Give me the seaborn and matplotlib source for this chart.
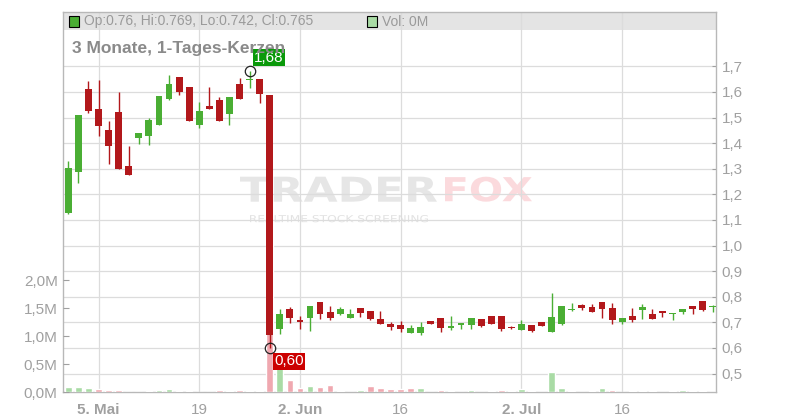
import numpy as np
import pandas as pd
import seaborn as sns
import matplotlib
matplotlib.use("Agg")
import matplotlib.pyplot as plt
from matplotlib.patches import Rectangle, PathPatch
from matplotlib.textpath import TextPath
from matplotlib.font_manager import FontProperties
from matplotlib.transforms import Affine2D

# Tageskerzen (Handelstage), Kurse und Volumen in Mio.
dates = pd.bdate_range("2025-04-30", "2025-07-29")

opens = [1.127, 1.287, 1.610, 1.532, 1.450, 1.520, 1.309, 1.420, 1.428, 1.471,
         1.572, 1.657, 1.618, 1.471, 1.546, 1.570, 1.514, 1.630, 1.645, 1.649,
         1.586, 0.674, 0.752, 0.708, 0.718, 0.779, 0.740, 0.732, 0.718, 0.756,
         0.744, 0.713, 0.695, 0.691, 0.659, 0.659, 0.705, 0.717, 0.679, 0.691,
         0.691, 0.713, 0.725, 0.725, 0.682, 0.671, 0.689, 0.701, 0.663, 0.693,
         0.748, 0.768, 0.760, 0.779, 0.756, 0.701, 0.725, 0.748, 0.732, 0.744,
         0.734, 0.740, 0.764, 0.783, 0.760]
highs = [1.329, 1.509, 1.641, 1.645, 1.485, 1.598, 1.388, 1.438, 1.499, 1.583,
         1.665, 1.657, 1.618, 1.559, 1.619, 1.579, 1.579, 1.654, 1.680, 1.649,
         1.586, 0.752, 0.760, 0.723, 0.764, 0.779, 0.765, 0.760, 0.752, 0.756,
         0.744, 0.744, 0.701, 0.706, 0.689, 0.701, 0.705, 0.717, 0.724, 0.697,
         0.717, 0.713, 0.725, 0.725, 0.686, 0.709, 0.689, 0.701, 0.814, 0.764,
         0.775, 0.771, 0.771, 0.779, 0.775, 0.717, 0.756, 0.771, 0.752, 0.744,
         0.736, 0.752, 0.764, 0.783, 0.769]
lows = [1.125, 1.244, 1.518, 1.427, 1.318, 1.299, 1.276, 1.397, 1.393, 1.471,
        1.568, 1.588, 1.486, 1.459, 1.533, 1.486, 1.471, 1.572, 1.615, 1.557,
        0.600, 0.653, 0.698, 0.675, 0.667, 0.714, 0.710, 0.730, 0.718, 0.722,
        0.710, 0.695, 0.671, 0.662, 0.659, 0.652, 0.695, 0.662, 0.671, 0.675,
        0.675, 0.683, 0.694, 0.667, 0.674, 0.671, 0.663, 0.687, 0.663, 0.691,
        0.744, 0.748, 0.740, 0.717, 0.693, 0.693, 0.702, 0.713, 0.713, 0.721,
        0.710, 0.732, 0.732, 0.744, 0.742]
closes = [1.304, 1.509, 1.525, 1.467, 1.389, 1.299, 1.276, 1.438, 1.489, 1.583,
          1.630, 1.600, 1.486, 1.524, 1.533, 1.486, 1.579, 1.572, 1.650, 1.592,
          0.652, 0.732, 0.718, 0.702, 0.764, 0.734, 0.718, 0.752, 0.732, 0.738,
          0.713, 0.695, 0.683, 0.675, 0.678, 0.682, 0.695, 0.679, 0.687, 0.697,
          0.717, 0.687, 0.694, 0.675, 0.678, 0.693, 0.667, 0.687, 0.721, 0.764,
          0.752, 0.756, 0.740, 0.752, 0.710, 0.717, 0.709, 0.760, 0.713, 0.736,
          0.736, 0.752, 0.752, 0.748, 0.765]
volumes = [0.095, 0.095, 0.077, 0.060, 0.042, 0.042, 0.0, 0.0, 0.024, 0.042,
           0.060, 0.024, 0.024, 0.0, 0.0, 0.042, 0.024, 0.042, 0.024, 0.024,
           3.0, 0.55, 0.22, 0.071, 0.113, 0.095, 0.131, 0.024, 0.0, 0.042,
           0.113, 0.077, 0.050, 0.060, 0.077, 0.077, 0.0, 0.042, 0.024, 0.0,
           0.042, 0.0, 0.024, 0.042, 0.024, 0.060, 0.024, 0.0, 0.363, 0.077,
           0.024, 0.0, 0.024, 0.077, 0.042, 0.0, 0.024, 0.024, 0.024, 0.0,
           0.024, 0.042, 0.024, 0.024, 0.0]
vol_dir = ["up", "up", "up", "down", "down", "down", "up", "up", "up", "up",
           "up", "down", "down", "up", "up", "down", "up", "down", "up", "down",
           "down", "up", "down", "down", "up", "down", "down", "up", "up", "up",
           "down", "down", "down", "down", "down", "up", "up", "down", "up", "up",
           "up", "up", "up", "down", "up", "up", "down", "up", "up", "up",
           "down", "up", "down", "up", "down", "up", "down", "up", "down", "up",
           "down", "up", "up", "down", "up"]

tick_dates = ["2025-05-05", "2025-05-19", "2025-06-02", "2025-06-16", "2025-07-02", "2025-07-16"]
tick_labels = ["5. Mai", "19", "2. Jun", "16", "2. Jul", "16"]
price_ticks = [0.5, 0.6, 0.7, 0.8, 0.9, 1.0, 1.1, 1.2, 1.3, 1.4, 1.5, 1.6, 1.7]
vol_ticks = [0.0, 0.5, 1.0, 1.5, 2.0]

title = "3 Monate, 1-Tages-Kerzen"

GREEN = "#4aae34"
RED = "#b2181b"
VOL_GREEN = "#a9dba5"
VOL_RED = "#f0a8b0"
TXT = "#a0a0a0"
GRID = "#dcdcdc"

sns.set_theme(style="white")
plt.rcParams["font.family"] = ["Liberation Sans", "DejaVu Sans"]

W, H = 800, 420
fig = plt.figure(figsize=(W / 100, H / 100), dpi=100)
fig.patch.set_facecolor("white")

# Grundachse: Preisskala (rechts), Gitter, Wasserzeichen
ax = fig.add_axes([63.3 / W, 1 - 392.3 / H, (716 - 63.3) / W, (392.3 - 11.7) / H])
ax_vol = ax.twinx()
ax_c = ax.twinx()

idx = np.arange(len(dates))
o = np.array(opens)
h = np.array(highs)
l = np.array(lows)
c = np.array(closes)

# Volumen mit seaborn
vol_df = pd.DataFrame({"i": idx, "vol": volumes, "dir": vol_dir})
sns.barplot(data=vol_df, x="i", y="vol", hue="dir", palette={"up": VOL_GREEN, "down": VOL_RED},
            dodge=False, width=0.66, saturation=1, legend=False, errorbar=None, ax=ax_vol)

# Kerzen
up = c >= o
colors = np.where(up, GREEN, RED)
ax_c.vlines(idx, l, h, colors=colors, linewidth=1.0, zorder=2)
ax_c.bar(idx, np.maximum(np.abs(c - o), 0.003), bottom=np.minimum(o, c), width=0.68,
         color=colors, linewidth=0, zorder=3)

# Hoch / Tief
i_hi = int(np.argmax(h))
i_lo = int(np.argmin(l))
for i, v in [(i_hi, h[i_hi]), (i_lo, l[i_lo])]:
    ax_c.plot(i, v, marker="o", ms=7.5, mfc="none", mec="#222222", mew=0.9, zorder=5)
ax_c.annotate(f"{h[i_hi]:.2f}".replace(".", ","), (i_hi, h[i_hi]), xytext=(4.5, 6.5),
              textcoords="offset pixels", ha="left", va="bottom", color="white", fontsize=11,
              bbox=dict(boxstyle="square,pad=0.1", fc="#0a990a", ec="none"), zorder=6)
ax_c.annotate(f"{l[i_lo]:.2f}".replace(".", ","), (i_lo, l[i_lo]), xytext=(4.5, -6.5),
              textcoords="offset pixels", ha="left", va="top", color="white", fontsize=11,
              bbox=dict(boxstyle="square,pad=0.1", fc="#cc0000", ec="none"), zorder=6)

# Achsen
xlim = (-0.5, 64.32)
ylim = (0.4266, 1.9133)
for a in (ax, ax_vol, ax_c):
    a.set_xlim(*xlim)
    a.set_xlabel("")
    a.set_ylabel("")
ax.set_ylim(*ylim)
ax_c.set_ylim(*ylim)
ax_vol.set_ylim(0, 6.796)

xt = [dates.get_loc(pd.Timestamp(d)) for d in tick_dates]
ax.set_xticks(xt)
ax.set_xticklabels(tick_labels)
for lab in ax.get_xticklabels():
    if "." in lab.get_text():
        lab.set_fontweight("bold")
ax.tick_params(axis="x", direction="out", length=3, width=0.8, color="#b0b0b0",
               pad=5, labelsize=11, labelcolor=TXT)

ax.yaxis.tick_right()
ax.set_yticks(price_ticks)
ax.set_yticklabels([f"{t:.1f}".replace(".", ",") for t in price_ticks])
ax.tick_params(axis="y", direction="in", length=3, width=0.8, color="#a0a0a0",
               pad=4, labelsize=11, labelcolor=TXT)

ax_vol.yaxis.set_ticks_position("left")
ax_vol.set_yticks(vol_ticks)
ax_vol.set_yticklabels([f"{t:.1f}M".replace(".", ",") for t in vol_ticks])
ax_vol.tick_params(axis="y", direction="in", length=4, width=0.8, color="#a0a0a0",
                   pad=4, labelsize=11, labelcolor=TXT, left=True, labelleft=True,
                   right=False, labelright=False)
ax_c.set_yticks([])
ax_c.tick_params(axis="both", length=0)

ax.set_axisbelow(True)
ax.grid(True, color=GRID, linewidth=0.9)
ax_vol.grid(False)
ax_c.grid(False)
for s in ax.spines.values():
    s.set_color("#b8b8b8")
    s.set_linewidth(1.0)
for a in (ax_vol, ax_c):
    for s in a.spines.values():
        s.set_visible(False)
    a.patch.set_visible(False)

# Kopfzeile in der Grafik
ax.add_patch(Rectangle((0, 0.952), 1, 0.048, transform=ax.transAxes, fc="#e4e4e4",
                       ec="none", zorder=0.3))


def logo_text(s, box, color, weight="bold"):
    x0, y0, x1, y1 = box
    tp = TextPath((0, 0), s, size=10, prop=FontProperties(family="DejaVu Sans", weight=weight))
    bb = tp.get_extents()
    tr = (Affine2D().translate(-bb.x0, -bb.y0)
          .scale((x1 - x0) / bb.width, (y1 - y0) / bb.height)
          .translate(x0, H - y1))
    ax.add_patch(PathPatch(tp, transform=tr, fc=color, ec="none", zorder=0.2))


logo_text("TRADER", (240, 176.7, 437, 201.7), "#e6e6e6")
logo_text("FOX", (445, 176.7, 532, 201.7), "#fbdadd")
logo_text("REALTIME STOCK SCREENING", (250, 215, 428, 222.3), "#e2e2e2", weight="normal")

fig.add_artist(Rectangle((68.5 / W, 1 - 26.5 / H), 10 / W, 10 / H, transform=fig.transFigure,
                         fc=GREEN, ec="black", lw=0.8))
fig.text(84 / W, 1 - 21.5 / H,
         f"Op:{opens[-1]:g}, Hi:{highs[-1]:g}, Lo:{lows[-1]:g}, Cl:{closes[-1]:g}",
         fontsize=10, color="#9a9a9a", va="center", ha="left")
fig.add_artist(Rectangle((366.7 / W, 1 - 26.5 / H), 10 / W, 10 / H, transform=fig.transFigure,
                         fc=VOL_GREEN, ec="black", lw=0.8))
fig.text(382.5 / W, 1 - 21.5 / H, f"Vol: {volumes[-1]:g}M", fontsize=10, color="#9a9a9a",
         va="center", ha="left")
fig.text(72 / W, 1 - 48 / H, title, fontsize=12.5, fontweight="bold", color="#8a8a8a",
         va="center", ha="left", zorder=1)

fig.savefig("out.png", dpi=100, facecolor="white")
